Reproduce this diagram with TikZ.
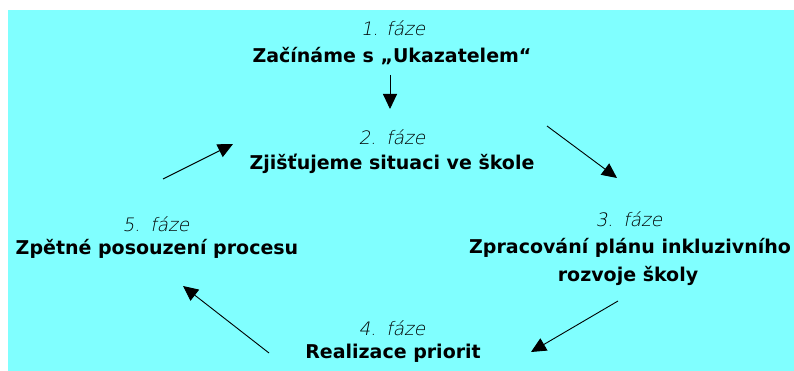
\documentclass[tikz,border=0pt]{standalone}
\usepackage{fontspec}
\setmainfont{DejaVu Sans}
\newfontfamily\phasefont{DejaVu Sans ExtraLight}[FakeSlant=0.2]
\usetikzlibrary{arrows.meta}
\definecolor{bgcyan}{HTML}{80FFFF}
\tikzset{
  phase/.style={anchor=base, inner sep=0pt, font=\phasefont\fontsize{18.5}{20}\selectfont},
  title/.style={anchor=base, inner sep=0pt, font=\bfseries\fontsize{19}{22}\selectfont},
  flow/.style={-{Triangle[length=15pt,width=14pt]}, line width=0.9pt, black}
}
\begin{document}
\begin{tikzpicture}[x=1pt,y=-1pt]
\useasboundingbox (0,0) rectangle (794,371);
\fill[white] (0,0) rectangle (794,371);
\fill[bgcyan] (8,10) rectangle (794,371);
% phase 1
\node[phase] (p1) at (393,36) {1. fáze};
\node[title] (t1) at (392,63) {Začínáme s „Ukazatelem“};
% phase 2
\node[phase] (p2) at (392,145) {2.\hspace{0.12em} fáze};
\node[title] (t2) at (392,170) {Zjišťujeme situaci ve škole};
% phase 3
\node[phase] (p3) at (629,226) {3.\hspace{0.12em} fáze};
\node[title] (t3a) at (630,253) {Zpracování plánu inkluzivního};
\node[title] (t3b) at (628,281) {rozvoje školy};
% phase 4
\node[phase] (p4) at (392,335) {4.\hspace{0.12em} fáze};
\node[title] (t4) at (393,358) {Realizace priorit};
% phase 5
\node[phase] (p5) at (156,232) {5.\hspace{0.12em} fáze};
\node[title] (t5) at (157,254) {Zpětné posouzení procesu};
% arrow end points
\coordinate (a1s) at (390,75);  \coordinate (a1e) at (390,109);
\coordinate (a2s) at (547,126); \coordinate (a2e) at (617,178);
\coordinate (a3s) at (618,301); \coordinate (a3e) at (531,352);
\coordinate (a4s) at (269,353); \coordinate (a4e) at (183,286);
\coordinate (a5s) at (163,179); \coordinate (a5e) at (233,144);
\draw[flow] (a1s) -- (a1e);
\draw[flow] (a2s) -- (a2e);
\draw[flow] (a3s) -- (a3e);
\draw[flow] (a4s) -- (a4e);
\draw[flow] (a5s) -- (a5e);
\end{tikzpicture}
\end{document}
